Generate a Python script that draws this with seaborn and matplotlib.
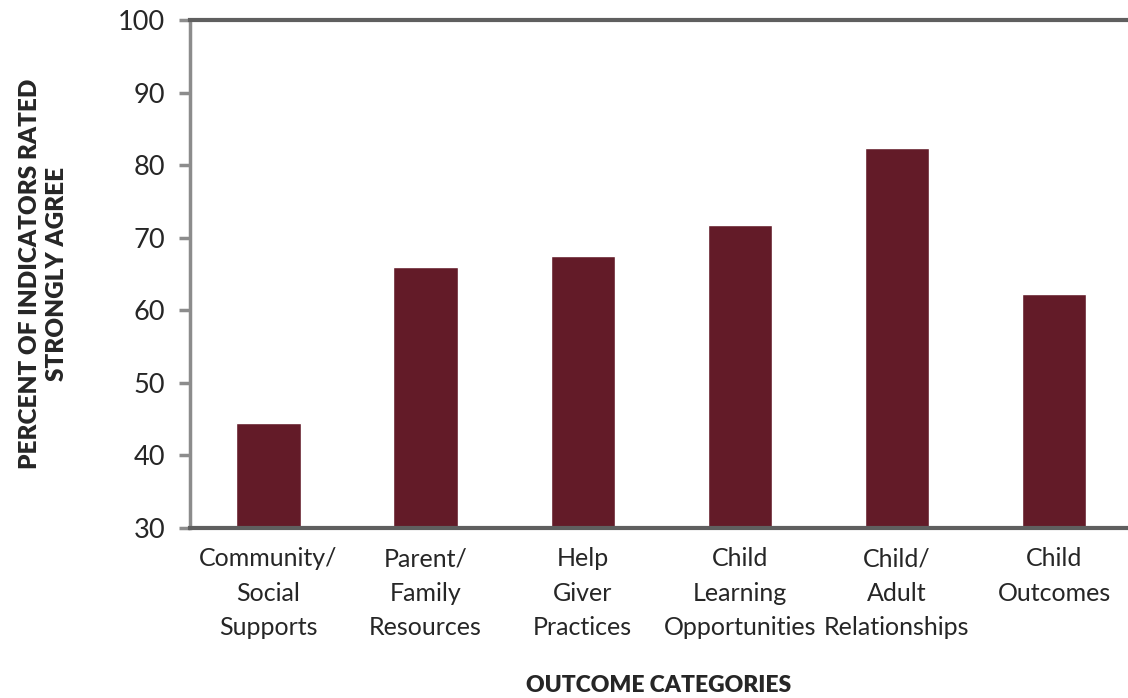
import matplotlib
matplotlib.use("Agg")
import matplotlib.pyplot as plt
import pandas as pd
import seaborn as sns

# ── 数据 ──────────────────────────────────────────────────────────
categories = [
    "Community/\nSocial\nSupports",
    "Parent/\nFamily\nResources",
    "Help\nGiver\nPractices",
    "Child\nLearning\nOpportunities",
    "Child/\nAdult\nRelationships",
    "Child\nOutcomes",
]
percent = [44.4, 66.0, 67.5, 71.8, 82.3, 62.3]
y_ticks = [30, 40, 50, 60, 70, 80, 90, 100]

df = pd.DataFrame({"category": categories, "percent": percent})

sns.set_theme(style="white")
plt.rcParams["font.family"] = ["Lato", "DejaVu Sans"]

W, H = 1128, 698
fig = plt.figure(figsize=(W / 100, H / 100), dpi=100)
ax = fig.add_axes([190 / W, 1 - 528 / H, (W - 190) / W, (528 - 20) / H])

sns.barplot(data=df, x="category", y="percent", color="#631B28",
            width=0.41, saturation=1, ax=ax)

ax.set_ylim(30, 100)
ax.set_xlim(-0.5, -0.5 + (W - 190) / 157.1)
ax.set_yticks(y_ticks)
ax.tick_params(axis="y", length=8, width=2.5, color="#8C8C8C",
               labelsize=19.5, pad=10, left=True)
ax.tick_params(axis="x", length=0, labelsize=18, pad=14)
for lbl in ax.get_xticklabels():
    lbl.set_linespacing(1.6)

ax.spines["left"].set_color("#8C8C8C")
ax.spines["left"].set_linewidth(2.5)
for side in ["top", "bottom"]:
    ax.spines[side].set_color("#5F5F5F")
    ax.spines[side].set_linewidth(3)
ax.spines["right"].set_visible(False)

ax.set_xlabel("OUTCOME CATEGORIES", fontsize=16.5, fontweight="heavy", labelpad=26)
ax.set_ylabel("PERCENT OF INDICATORS RATED\nSTRONGLY AGREE", fontsize=17.5,
              fontweight="heavy", labelpad=36, linespacing=1.25)

fig.savefig("out.png", dpi=100, facecolor="white")
